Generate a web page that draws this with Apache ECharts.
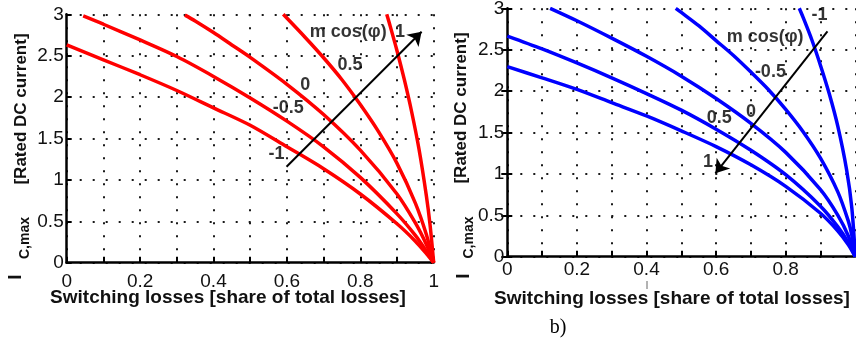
<!DOCTYPE html>
<html>
<head>
<meta charset="utf-8">
<script src="https://cdn.jsdelivr.net/npm/echarts@6/dist/echarts.min.js"></script>
<style>
html,body{margin:0;padding:0;background:#fff;}
#c{width:856px;height:343px;}
</style>
</head>
<body>
<div id="c"></div>
<script>
// ---------- Panel a) (red) : switching-loss share vs I_C,max ----------
const aLabels = ['-1', '-0.5', '0', '0.5', '1'];
const aX_m1 = [0, 0.1, 0.2, 0.3, 0.4, 0.5, 0.6, 0.7, 0.8, 0.9, 0.95, 0.98, 1];
const aY_m1 = [2.63, 2.45, 2.27, 2.08, 1.87, 1.66, 1.40, 1.135, 0.83, 0.47, 0.26, 0.11, 0];
const aX_m05 = [0.045, 0.1, 0.2, 0.3, 0.4, 0.5, 0.6, 0.7, 0.8, 0.9, 0.95, 0.98, 1];
const aY_m05 = [2.98, 2.88, 2.69, 2.49, 2.25, 1.99, 1.71, 1.40, 1.03, 0.59, 0.33, 0.14, 0];
const aX_0 = [0.322, 0.35, 0.4, 0.45, 0.5, 0.6, 0.7, 0.8, 0.9, 0.95, 0.98, 1];
const aY_0 = [2.99, 2.92, 2.78, 2.63, 2.48, 2.155, 1.79, 1.36, 0.83, 0.48, 0.22, 0];
const aX_05 = [0.59, 0.65, 0.7, 0.75, 0.8, 0.85, 0.9, 0.95, 0.98, 1];
const aY_05 = [3.0, 2.72, 2.475, 2.21, 1.91, 1.58, 1.20, 0.72, 0.34, 0];
const aX_1 = [0.872, 0.88, 0.9, 0.92, 0.94, 0.96, 0.98, 0.99, 1];
const aY_1 = [3.0, 2.88, 2.56, 2.21, 1.82, 1.37, 0.81, 0.46, 0];

// curve labels of panel a)
const aTextNames = ['m cos(φ)', '1', '0.5', '0', '-0.5', '-1'];
const aTextX = [0.767, 0.908, 0.772, 0.65, 0.604, 0.572];
const aTextY = [2.79, 2.79, 2.39, 2.15, 1.865, 1.313];
const aArrowFrom = [0.599, 1.159];
const aArrowTo = [0.967, 2.79];

// ---------- Panel b) (blue) ----------
const bLabels = ['1', '0.5', '0', '-0.5', '-1'];
const bX_1 = [0, 0.1, 0.2, 0.3, 0.4, 0.5, 0.6, 0.7, 0.8, 0.9, 0.95, 0.98, 1];
const bY_1 = [2.295, 2.16, 2.02, 1.86, 1.70, 1.52, 1.33, 1.11, 0.85, 0.525, 0.31, 0.145, 0];
const bX_05 = [0, 0.1, 0.2, 0.3, 0.4, 0.5, 0.6, 0.7, 0.8, 0.9, 0.95, 0.98, 1];
const bY_05 = [2.665, 2.51, 2.34, 2.16, 1.97, 1.77, 1.54, 1.285, 0.99, 0.61, 0.36, 0.17, 0];
const bX_0 = [0.123, 0.2, 0.3, 0.4, 0.5, 0.6, 0.7, 0.8, 0.9, 0.95, 0.98, 1];
const bY_0 = [3.0, 2.85, 2.64, 2.42, 2.18, 1.91, 1.61, 1.26, 0.81, 0.50, 0.25, 0];
const bX_m05 = [0.484, 0.5, 0.55, 0.6, 0.65, 0.7, 0.75, 0.8, 0.85, 0.9, 0.95, 0.98, 0.99, 1];
const bY_m05 = [3.0, 2.95, 2.79, 2.61, 2.43, 2.23, 2.02, 1.78, 1.51, 1.19, 0.78, 0.43, 0.26, 0];
const bX_m1 = [0.839, 0.85, 0.875, 0.9, 0.925, 0.95, 0.975, 0.99, 1];
const bY_m1 = [3.0, 2.89, 2.62, 2.31, 1.97, 1.57, 1.05, 0.59, 0];

const bTextNames = ['-1', 'm cos(φ)', '-0.5', '0', '0.5', '1'];
const bTextX = [0.897, 0.741, 0.756, 0.700, 0.609, 0.577];
const bTextY = [2.92, 2.65, 2.234, 1.75, 1.67, 1.147];
const bArrowFrom = [0.920, 2.72];
const bArrowTo = [0.598, 1.007];

// axis tick values
const xTicks = [0, 0.2, 0.4, 0.6, 0.8, 1];
const yTicks = [0, 0.5, 1, 1.5, 2, 2.5, 3];

const xTitle = 'Switching losses [share of total losses]';
const yTitleMain = '[Rated DC current]';
const yTitleI = 'I';
const yTitleSub = 'C,max';

function pairs(xs, ys){ return xs.map((x,i)=>[x, ys[i]]); }

const FONT = '"Liberation Sans", Arial, sans-serif';
const dotStyle = {color:'#1a1a1a', width:2, type:[2, 11]};

function xAxisCfg(gi, hideOne, margin){
  return {
    type:'value', gridIndex:gi, min:0, max:1, interval:0.1,
    axisLine:{show:true, onZero:false, lineStyle:{color:'#000', width:2.5}},
    axisTick:{show:true, inside:true, length:6, lineStyle:{color:'#000', width:2}},
    axisLabel:{
      show:true, margin:margin, fontFamily:FONT, fontSize:19, color:'#111',
      showMinLabel:true, showMaxLabel:true, hideOverlap:false,
      formatter:function(v){
        const k = Math.round(v*10);
        if (k % 2 !== 0) return '';
        if (hideOne && k === 10) return '';
        const s = xTicks.find(t => Math.abs(t - v) < 1e-6);
        return s === undefined ? '' : String(s);
      }
    },
    splitLine:{show:true, lineStyle:dotStyle}
  };
}
function yAxisCfg(gi){
  return {
    type:'value', gridIndex:gi, min:0, max:3, interval:0.5,
    axisLine:{show:true, onZero:false, lineStyle:{color:'#000', width:2.5}},
    axisTick:{show:true, inside:true, length:5, lineStyle:{color:'#000', width:2}},
    axisLabel:{show:true, margin:3, fontFamily:FONT, fontSize:19, color:'#111',
      showMinLabel:true, showMaxLabel:true,
      formatter:function(v){ const s = yTicks.find(t=>Math.abs(t-v)<1e-6); return s===undefined?'':String(s); }},
    splitLine:{show:true, lineStyle:dotStyle}
  };
}

function curve(name, xs, ys, color, xi, yi){
  return {
    type:'line', name:name, xAxisIndex:xi, yAxisIndex:yi,
    data:pairs(xs, ys), showSymbol:false, smooth:0.3, silent:true,
    lineStyle:{color:color, width:3.5}, itemStyle:{color:color}, z:3, clip:true
  };
}

function annot(names, xs, ys, from, to, xi, yi){
  return {
    type:'scatter', xAxisIndex:xi, yAxisIndex:yi, symbolSize:0, silent:true, z:5,
    data:names.map((n,i)=>({name:n, value:[xs[i], ys[i]]})),
    label:{show:true, position:'inside', formatter:'{b}', fontFamily:FONT,
      fontWeight:'bold', fontSize:18, color:'#000'},
    markLine:{
      silent:true, symbol:['none','arrow'], symbolSize:13, precision:4,
      label:{show:false},
      lineStyle:{color:'#000', width:2, type:'solid'},
      emphasis:{disabled:true},
      data:[[{coord:from}, {coord:to}]]
    }
  };
}

const chart = echarts.init(document.getElementById('c'), null, {renderer:'canvas'});
chart.setOption({
  backgroundColor:'#fff',
  animation:false,
  grid:[
    {left:66.7, top:14.3, width:367, height:248.4, containLabel:false, outerBoundsMode:'none'},
    {left:507.3, top:8.3, width:348, height:248.4, containLabel:false, outerBoundsMode:'none'}
  ],
  xAxis:[ xAxisCfg(0, false, 10), xAxisCfg(1, true, 4) ],
  yAxis:[
    yAxisCfg(0),
    yAxisCfg(1),
    {type:'value', gridIndex:1, position:'right', min:0, max:3, interval:0.5,
     axisLine:{show:false}, axisLabel:{show:false}, splitLine:{show:false},
     axisTick:{show:true, inside:true, length:6, lineStyle:{color:'#000', width:2}}}
  ],
  series:[
    curve(aLabels[0], aX_m1, aY_m1, '#ff0000', 0, 0),
    curve(aLabels[1], aX_m05, aY_m05, '#ff0000', 0, 0),
    curve(aLabels[2], aX_0, aY_0, '#ff0000', 0, 0),
    curve(aLabels[3], aX_05, aY_05, '#ff0000', 0, 0),
    curve(aLabels[4], aX_1, aY_1, '#ff0000', 0, 0),
    annot(aTextNames, aTextX, aTextY, aArrowFrom, aArrowTo, 0, 0),
    curve(bLabels[0], bX_1, bY_1, '#0000ff', 1, 1),
    curve(bLabels[1], bX_05, bY_05, '#0000ff', 1, 1),
    curve(bLabels[2], bX_0, bY_0, '#0000ff', 1, 1),
    curve(bLabels[3], bX_m05, bY_m05, '#0000ff', 1, 1),
    curve(bLabels[4], bX_m1, bY_m1, '#0000ff', 1, 1),
    annot(bTextNames, bTextX, bTextY, bArrowFrom, bArrowTo, 1, 1)
  ],
  graphic:[
    {type:'text', x:228, y:298, style:{text:xTitle, font:'bold 19px '+FONT, fill:'#111', align:'center', verticalAlign:'middle'}},
    {type:'text', x:672, y:299, style:{text:xTitle, font:'bold 19px '+FONT, fill:'#111', align:'center', verticalAlign:'middle'}},
    {type:'text', x:21.5, y:109, rotation:Math.PI/2, style:{text:yTitleMain, font:'bold 17px '+FONT, fill:'#111', align:'center', verticalAlign:'middle'}},
    {type:'text', x:25, y:238, rotation:Math.PI/2, style:{text:yTitleSub, font:'bold 14px '+FONT, fill:'#111', align:'center', verticalAlign:'middle'}},
    {type:'text', x:16, y:277, rotation:Math.PI/2, style:{text:yTitleI, font:'bold 19px '+FONT, fill:'#111', align:'center', verticalAlign:'middle'}},
    {type:'text', x:461.5, y:108, rotation:Math.PI/2, style:{text:yTitleMain, font:'bold 17px '+FONT, fill:'#111', align:'center', verticalAlign:'middle'}},
    {type:'text', x:469, y:237.5, rotation:Math.PI/2, style:{text:yTitleSub, font:'bold 14px '+FONT, fill:'#111', align:'center', verticalAlign:'middle'}},
    {type:'text', x:464, y:276, rotation:Math.PI/2, style:{text:yTitleI, font:'bold 19px '+FONT, fill:'#111', align:'center', verticalAlign:'middle'}},
    {type:'text', x:558, y:328, style:{text:'b)', font:'20px "Liberation Serif", "Times New Roman", serif', fill:'#000', align:'center', verticalAlign:'middle'}},
    {type:'line', shape:{x1:647, y1:281, x2:647, y2:289}, style:{stroke:'#666', lineWidth:1}}
  ]
});
</script>
</body>
</html>
